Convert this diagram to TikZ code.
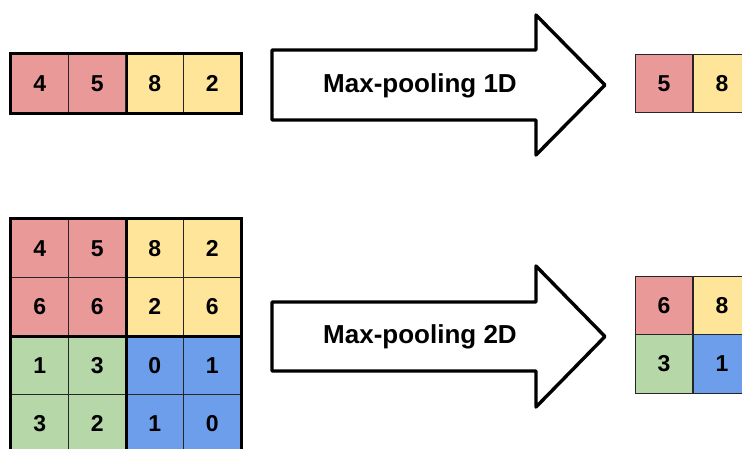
\documentclass[tikz,border=0pt]{standalone}
\usepackage{fontspec}
\setmainfont{Liberation Sans}
\definecolor{cred}{HTML}{EA9999}
\definecolor{cyel}{HTML}{FFE599}
\definecolor{cgrn}{HTML}{B6D7A8}
\definecolor{cblu}{HTML}{6D9EEB}
\begin{document}
\begin{tikzpicture}[x=1pt,y=-1pt,
  cell/.style={draw=black!85, line width=1.4pt, minimum width=57.5pt, minimum height=58.5pt,
    inner sep=0pt, font=\fontsize{23}{27}\selectfont\bfseries, anchor=center},
  outer/.style={draw=black, line width=2.6pt},
  bigarrow/.style={draw=black, line width=3.4pt, line join=round, fill=white},
  lbl/.style={font=\fontsize{26}{30}\selectfont\bfseries, inner sep=0pt}]
\useasboundingbox (0,0) rectangle (742,448);
\fill[white] (0,0) rectangle (742,448);
% ---- 1D input
\node[cell,fill=cred] (a1) at (39.75,83.5) {4};
\node[cell,fill=cred] (a2) at (97.25,83.5) {5};
\node[cell,fill=cyel] (a3) at (154.75,83.5) {8};
\node[cell,fill=cyel] (a4) at (212.25,83.5) {2};
\draw[outer] (a1.north west) rectangle (a4.south east);
\draw[line width=1.8pt] (a2.north east) -- (a2.south east);
% ---- 1D output
\node[cell,fill=cred] (o1) at (664,83.5) {5};
\node[cell,fill=cyel] (o2) at (722,83.5) {8};
% ---- arrow 1
\draw[bigarrow] (272,50) -- (536,50) -- (536,15) -- (605,85) -- (536,155) -- (536,120) -- (272,120) -- cycle;
\node[lbl] (t1) at (420,86) {Max-pooling 1D};
% ---- 2D input
\node[cell,fill=cred] (b11) at (39.75,248.25) {4};
\node[cell,fill=cred] (b12) at (97.25,248.25) {5};
\node[cell,fill=cyel] (b13) at (154.75,248.25) {8};
\node[cell,fill=cyel] (b14) at (212.25,248.25) {2};
\node[cell,fill=cred] (b21) at (39.75,306.75) {6};
\node[cell,fill=cred] (b22) at (97.25,306.75) {6};
\node[cell,fill=cyel] (b23) at (154.75,306.75) {2};
\node[cell,fill=cyel] (b24) at (212.25,306.75) {6};
\node[cell,fill=cgrn] (b31) at (39.75,365.25) {1};
\node[cell,fill=cgrn] (b32) at (97.25,365.25) {3};
\node[cell,fill=cblu] (b33) at (154.75,365.25) {0};
\node[cell,fill=cblu] (b34) at (212.25,365.25) {1};
\node[cell,fill=cgrn] (b41) at (39.75,423.75) {3};
\node[cell,fill=cgrn] (b42) at (97.25,423.75) {2};
\node[cell,fill=cblu] (b43) at (154.75,423.75) {1};
\node[cell,fill=cblu] (b44) at (212.25,423.75) {0};
\draw[outer] (b11.north west) rectangle (b44.south east);
\draw[outer] (b12.north east) -- (b42.south east);
\draw[outer] (b21.south west) -- (b24.south east);
% ---- 2D output
\node[cell,fill=cred] (p11) at (664,305.5) {6};
\node[cell,fill=cyel] (p12) at (722,305.5) {8};
\node[cell,fill=cgrn] (p21) at (664,364) {3};
\node[cell,fill=cblu] (p22) at (722,364) {1};
% ---- arrow 2
\draw[bigarrow] (272,302) -- (536,302) -- (536,266) -- (605,336.5) -- (536,407) -- (536,371) -- (272,371) -- cycle;
\node[lbl] (t2) at (420,337) {Max-pooling 2D};
\end{tikzpicture}
\end{document}
